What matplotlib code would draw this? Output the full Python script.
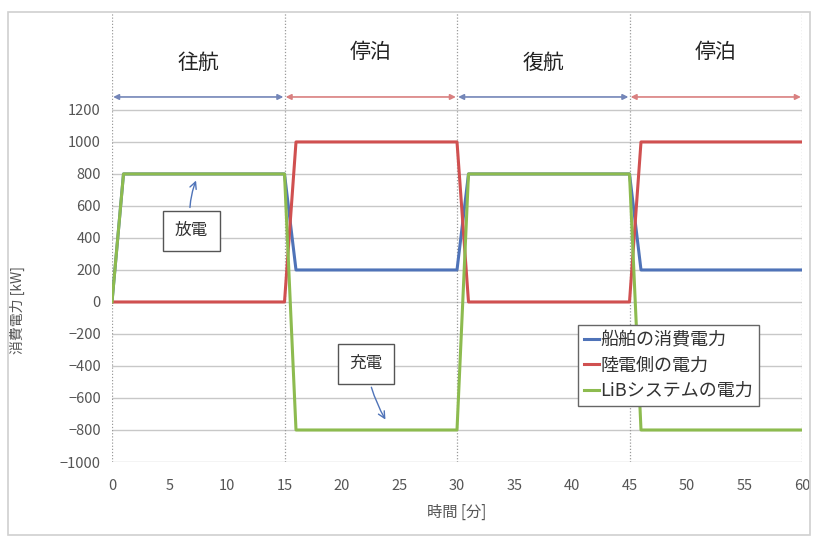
import matplotlib.pyplot as plt
from matplotlib.patches import Rectangle

plt.rcParams['font.family'] = ['Noto Sans CJK JP', 'DejaVu Sans']

# Time axis [min] and power series [kW]
minutes = [0, 1, 15, 16, 30, 31, 45, 46, 60]
ship_power = [0, 800, 800, 200, 200, 800, 800, 200, 200]
shore_power = [0, 0, 0, 1000, 1000, 0, 0, 1000, 1000]
lib_power = [0, 800, 800, -800, -800, 800, 800, -800, -800]

series_names = ['船舶の消費電力', '陸電側の電力', 'LiBシステムの電力']
series_colors = ['#4F73B8', '#D05050', '#8DBB4F']

# Operating phases along the top
phase_names = ['往航', '停泊', '復航', '停泊']
phase_bounds = [0, 15, 30, 45, 60]
phase_label_y = [1494, 1562, 1494, 1562]

yticks = list(range(-1000, 1201, 200))
xticks = list(range(0, 61, 5))

fig = plt.figure(figsize=(8.16, 5.38), dpi=100)
ax = fig.add_axes([112 / 816, 1 - 462 / 538, 690 / 816, 450 / 538])
ax.set_xlim(0, 60)
ax.set_ylim(-1000, 1812)

for s in ax.spines.values():
    s.set_visible(False)

# horizontal grid only over the data range
for v in yticks:
    ax.plot([0, 60], [v, v], color='#c8c8c8', lw=1.0, zorder=1)
# dotted phase separators over the full height
for b in phase_bounds:
    ax.axvline(b, color='#9a9a9a', lw=0.9, ls=(0, (1, 1.5)), zorder=1)

for vals, name, col in zip([ship_power, shore_power, lib_power], series_names, series_colors):
    ax.plot(minutes, vals, color=col, lw=2.2, label=name, zorder=3)

ax.set_yticks(yticks)
ax.set_xticks(xticks)
ax.tick_params(axis='both', length=0, labelsize=10.5, labelcolor='#555555')
ax.tick_params(axis='x', pad=12)
ax.tick_params(axis='y', pad=8)

ax.set_xlabel('時間 [分]', fontsize=11, color='#555555', labelpad=8)
ax.set_ylabel('消費電力 [kW]', fontsize=10, color='#555555')
ax.yaxis.set_label_coords(-0.126, 0.338)

# phase labels and double-headed arrows
arrow_colors = ['#7486b8', '#d98080', '#7486b8', '#d98080']
for i, name in enumerate(phase_names):
    a, b = phase_bounds[i], phase_bounds[i + 1]
    ax.annotate('', xy=(a + 0.1, 1281), xytext=(b - 0.1, 1281),
                arrowprops=dict(arrowstyle='<|-|>', color=arrow_colors[i], lw=1.2,
                                mutation_scale=8, shrinkA=0, shrinkB=0))
    ax.text((a + b) / 2, phase_label_y[i], name, ha='center', va='center',
            fontsize=15, color='#222222')

# callouts
box = dict(boxstyle='square,pad=0.7', fc='white', ec='#555555', lw=1.0)
ax.annotate('放電', xy=(7.4, 775), xytext=(6.9, 444), ha='center', va='center',
            fontsize=12, color='#333333', bbox=box,
            arrowprops=dict(arrowstyle='->', color='#4F73B8', lw=1.0,
                            connectionstyle='arc3,rad=-0.15'))
ax.annotate('充電', xy=(23.9, -750), xytext=(22.1, -387), ha='center', va='center',
            fontsize=12, color='#333333', bbox=box,
            arrowprops=dict(arrowstyle='->', color='#4F73B8', lw=1.0,
                            connectionstyle='arc3,rad=0.1'))

leg = ax.legend(loc='upper left', bbox_to_anchor=(0.675, 0.304), fontsize=13,
                handlelength=0.8, handletextpad=0.1, borderpad=0.35,
                labelspacing=0.4, fancybox=False, framealpha=1, borderaxespad=0)
leg.get_frame().set_edgecolor('#666666')
for t in leg.get_texts():
    t.set_color('#333333')

# light outer frame around the whole chart
fig.patches.append(Rectangle((8 / 816, 3 / 538), 802 / 816, 523 / 538,
                             transform=fig.transFigure, fill=False,
                             ec='#d0d0d0', lw=1.2))

fig.savefig('out.png', dpi=100)
